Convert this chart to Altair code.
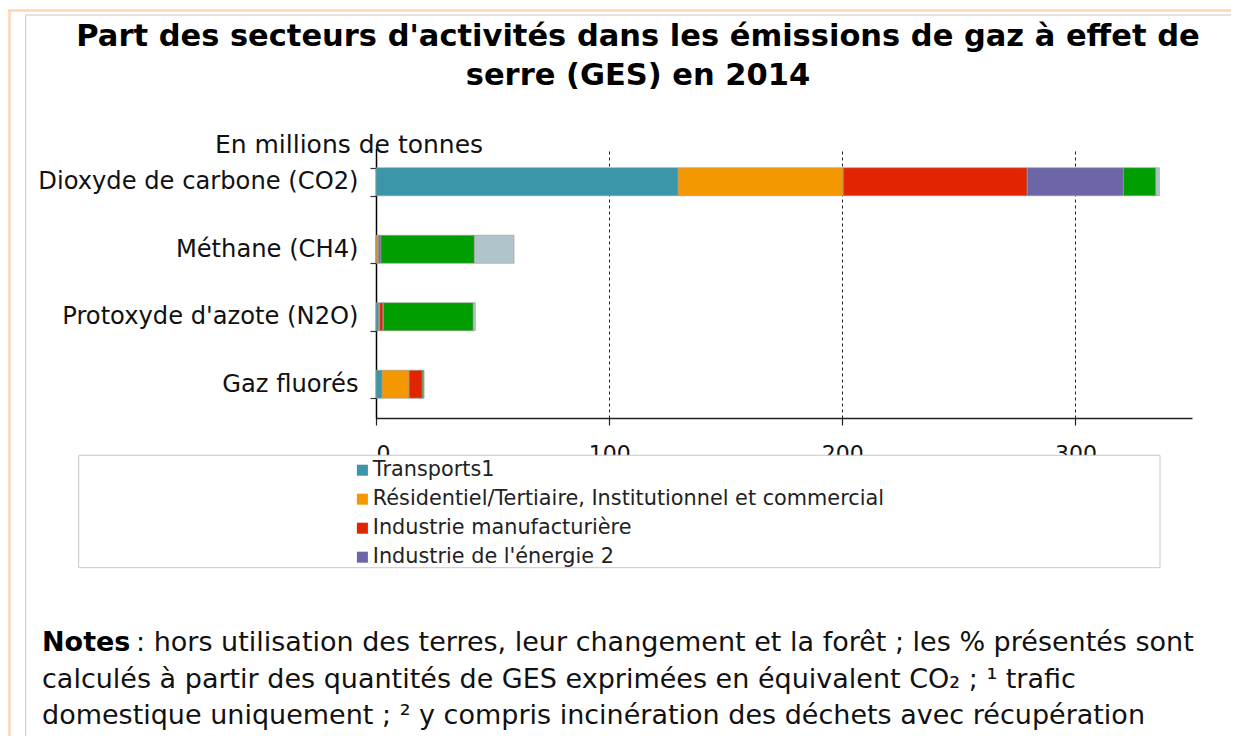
import altair as alt
import pandas as pd

# ---------------- data ----------------
gases = ["Dioxyde de carbone (CO2)", "Méthane (CH4)", "Protoxyde d'azote (N2O)", "Gaz fluorés"]
sectors = [
    "Transports1",
    "Résidentiel/Tertiaire, Institutionnel et commercial",
    "Industrie manufacturière",
    "Industrie de l'énergie 2",
    "Agriculture/sylviculture",
    "Traitement centralisé des déchets",
]
colors = ["#3A96A8", "#F39800", "#E32400", "#6C65A8", "#009E00", "#B0C4CC"]

transports = [129.6, 0.1, 1.2, 2.6]
residentiel = [70.8, 0.9, 0.4, 11.6]
industrie_manuf = [78.9, 0.2, 1.4, 5.7]
industrie_energie = [41.3, 0.9, 0.2, 0.0]
agriculture = [13.9, 40.1, 38.5, 0.6]
dechets = [1.5, 17.0, 0.9, 0.0]

x_ticks = [0, 100, 200, 300]

title_lines = ["Part des secteurs d'activités dans les émissions de gaz à effet de",
               "serre (GES) en 2014"]
unit_label = "En millions de tonnes"
notes_bold = "Notes"
notes_lines = [
    ": hors utilisation des terres, leur changement et la forêt ; les % présentés sont",
    "calculés à partir des quantités de GES exprimées en équivalent CO₂ ; ¹ trafic",
    "domestique uniquement ; ² y compris incinération des déchets avec récupération",
]

series = [transports, residentiel, industrie_manuf, industrie_energie, agriculture, dechets]
rows = []
for si, (sec, vals) in enumerate(zip(sectors, series)):
    for g, v in zip(gases, vals):
        rows.append({"gaz": g, "secteur": sec, "valeur": v, "ordre": si})
df = pd.DataFrame(rows)

# ---------------- layout ----------------
FONT = "DejaVu Sans"
W, H = 816, 270
OX, OY = 376, 148  # page position of plot origin


def px(x):
    return x - OX


def py(y):
    return y - OY


def txt(s, x, y, size, weight="normal", align="left", color="#000"):
    return alt.Chart(pd.DataFrame({"t": [s]})).mark_text(
        align=align, baseline="alphabetic", fontSize=size, fontWeight=weight,
        font=FONT, color=color
    ).encode(x=alt.value(px(x)), y=alt.value(py(y)), text="t:N")


def one():
    return alt.Chart(pd.DataFrame({"a": [0]}))


# page frame
peach_top = one().mark_rule(color="#FDD5B0", strokeWidth=2.5).encode(
    x=alt.value(px(8)), x2=alt.value(px(1239)), y=alt.value(py(10.5)))
peach_left = one().mark_rule(color="#FDD5B0", strokeWidth=2.5).encode(
    x=alt.value(px(9.5)), y=alt.value(py(10.5)), y2=alt.value(py(760)))
gray_box = one().mark_rect(fillOpacity=0, stroke="#c8c8c8", strokeWidth=1).encode(
    x=alt.value(px(25.7)), x2=alt.value(px(1232.7)), y=alt.value(py(15)), y2=alt.value(py(780)))

legend_box = one().mark_rect(fill="white", stroke="#c8c8c8", strokeWidth=1).encode(
    x=alt.value(px(78.7)), x2=alt.value(px(1160)), y=alt.value(py(455.3)), y2=alt.value(py(567.7)))

bars = alt.Chart(df).mark_bar(stroke="#9a9a9a", strokeWidth=0.6).encode(
    y=alt.Y("gaz:N", sort=gases,
            scale=alt.Scale(paddingInner=0.585, paddingOuter=0.2925),
            axis=alt.Axis(title=None, tickBand="extent", labelFont=FONT, labelFontSize=24.2,
                          labelColor="#111", labelPadding=12, tickSize=6, tickColor="#333",
                          tickWidth=1.2, domainColor="#000", domainWidth=1.5, grid=False,
                          labelLimit=500)),
    x=alt.X("valeur:Q", stack="zero", scale=alt.Scale(domain=[0, 350], nice=False),
            axis=alt.Axis(title=None, values=x_ticks, grid=True, gridDash=[3, 3],
                          gridColor="#222", gridWidth=1, labelFont=FONT, labelFontSize=22,
                          labelColor="#111", tickSize=7, tickColor="#222", tickWidth=1.2,
                          domainColor="#222", domainWidth=1.5, labelPadding=18)),
    color=alt.Color("secteur:N", sort=sectors,
                    scale=alt.Scale(domain=sectors, range=colors),
                    legend=alt.Legend(orient="none", legendX=px(352), legendY=py(459.8),
                                      direction="vertical", title=None, values=sectors[:4],
                                      labelFont=FONT, labelFontSize=20.8, labelColor="#222",
                                      symbolType="square", symbolSize=121,
                                      symbolStrokeWidth=0, labelOffset=0, rowPadding=7.0,
                                      padding=0, labelLimit=900)),
    order=alt.Order("ordre:Q"),
)

layers = [peach_top, peach_left, gray_box, legend_box, bars,
          txt(title_lines[0], 638, 46, 30.5, "bold", "center"),
          txt(title_lines[1], 638, 85, 30.5, "bold", "center"),
          txt(unit_label, 349, 153, 25, "normal", "center", "#111"),
          txt(notes_bold, 42, 651, 27, "bold"),
          txt(notes_lines[0], 136, 651, 27, "normal", "left", "#111"),
          txt(notes_lines[1], 42, 688, 27, "normal", "left", "#111"),
          txt(notes_lines[2], 42, 724, 27, "normal", "left", "#111")]

chart = alt.layer(*layers).properties(
    width=W, height=H,
    padding={"left": 368, "top": 140, "right": 39, "bottom": 318},
    autosize=alt.AutoSizeParams(type="none"),
    background="white",
).configure_view(strokeWidth=0)

chart.save("out.html", embed_options={"renderer": "svg", "actions": False})
